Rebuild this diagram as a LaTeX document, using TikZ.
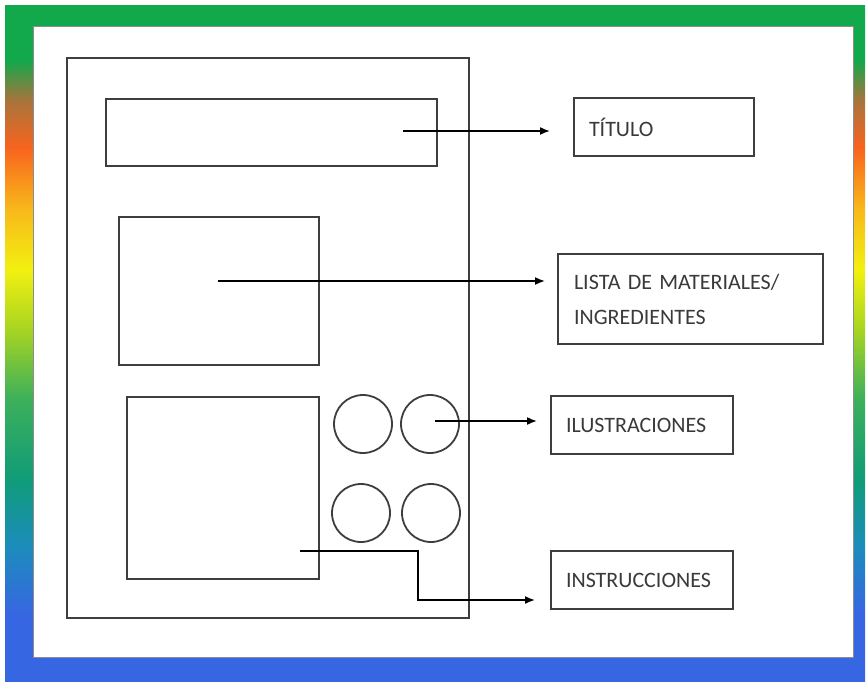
\documentclass[tikz,border=0pt]{standalone}
\usepackage{fontspec}
\setmainfont{Carlito}
\usetikzlibrary{arrows.meta}
\definecolor{sBlue}{HTML}{3766E2}
\definecolor{sBlueTeal}{HTML}{1C8CBC}
\definecolor{sTeal}{HTML}{109C78}
\definecolor{sGreen}{HTML}{3DB05A}
\definecolor{sYGreen}{HTML}{A6D422}
\definecolor{sYellow}{HTML}{F2F010}
\definecolor{sOrangeY}{HTML}{F8B81A}
\definecolor{sOrange}{HTML}{F8641E}
\definecolor{sBrown}{HTML}{A8743C}
\definecolor{sTopGreen}{HTML}{12A84C}
\definecolor{linegray}{HTML}{3E3E3E}
\definecolor{textgray}{HTML}{3A3A3A}
\pgfdeclareverticalshading{rainbowside}{100bp}{color(0bp)=(sBlue); color(25bp)=(sBlue); color(30bp)=(sBlue); color(35bp)=(sBlueTeal); color(40bp)=(sTeal); color(46bp)=(sGreen); color(51bp)=(sYGreen); color(55.5bp)=(sYellow); color(60bp)=(sOrangeY); color(64.5bp)=(sOrange); color(68bp)=(sBrown); color(71bp)=(sTopGreen); color(75bp)=(sTopGreen); color(100bp)=(sTopGreen)}
\tikzset{
  frame/.style={draw=linegray, line width=2pt, inner sep=0pt, anchor=north west},
  labelbox/.style={frame, text=textgray, inner xsep=15pt, align=left,
    font=\fontsize{22}{35}\selectfont},
  pic circle/.style={circle, draw=linegray, line width=1.8pt, minimum size=58pt, inner sep=0pt},
  arr/.style={draw=black, line width=1.6pt, -{Latex[length=10pt,width=8pt]}}
}
\begin{document}
\begin{tikzpicture}[x=1pt,y=-1pt]
\useasboundingbox (0,0) rectangle (868,682);
% colourful frame
\shade[shading=rainbowside] (5,6) rectangle (865,682);
\fill[sTopGreen] (5,6) rectangle (865,27);
\fill[sBlue] (5,657) rectangle (865,682);
\fill[white] (33,27) rectangle (853,657);
\draw[black!45, line width=1pt] (33,27) rectangle (853,657);
% page sketch
\node[frame, minimum width=402pt, minimum height=560pt] (page) at (66,57) {};
\node[frame, minimum width=331pt, minimum height=67pt] (titlebox) at (105,98) {};
\node[frame, minimum width=200pt, minimum height=148pt] (matbox) at (118,216) {};
\node[frame, minimum width=192pt, minimum height=182pt] (instbox) at (126,396) {};
\node[pic circle] (c1) at (363,424) {};
\node[pic circle] (c2) at (430,424) {};
\node[pic circle] (c3) at (361,513) {};
\node[pic circle] (c4) at (431,513) {};
% labels
\node[labelbox, text width=150pt, minimum height=58pt] (titulo) at (573,97) {TÍTULO};
\node[labelbox, inner xsep=16pt, text width=233pt, minimum height=90pt] (lista) at (557,253) {LISTA DE MATERIALES/\\INGREDIENTES};
\node[labelbox, text width=152pt, minimum height=58pt] (ilus) at (550,395) {ILUSTRACIONES};
\node[labelbox, text width=152pt, minimum height=58pt] (instr) at (550,550) {INSTRUCCIONES};
% connectors
\coordinate (t0) at (403,131);
\coordinate (m0) at (218,281);
\coordinate (l0) at (435,421);
\coordinate (i0) at (300,551);
\coordinate (i1) at (418,600);
\draw[arr, shorten >=23pt] (t0) -- (t0 -| titulo.west);
\draw[arr, shorten >=12pt] (m0) -- (m0 -| lista.west);
\draw[arr, shorten >=13pt] (l0) -- (l0 -| ilus.west);
\draw[arr, shorten >=15pt] (i0) -| (i1) -- (i1 -| instr.west);
\end{tikzpicture}
\end{document}
